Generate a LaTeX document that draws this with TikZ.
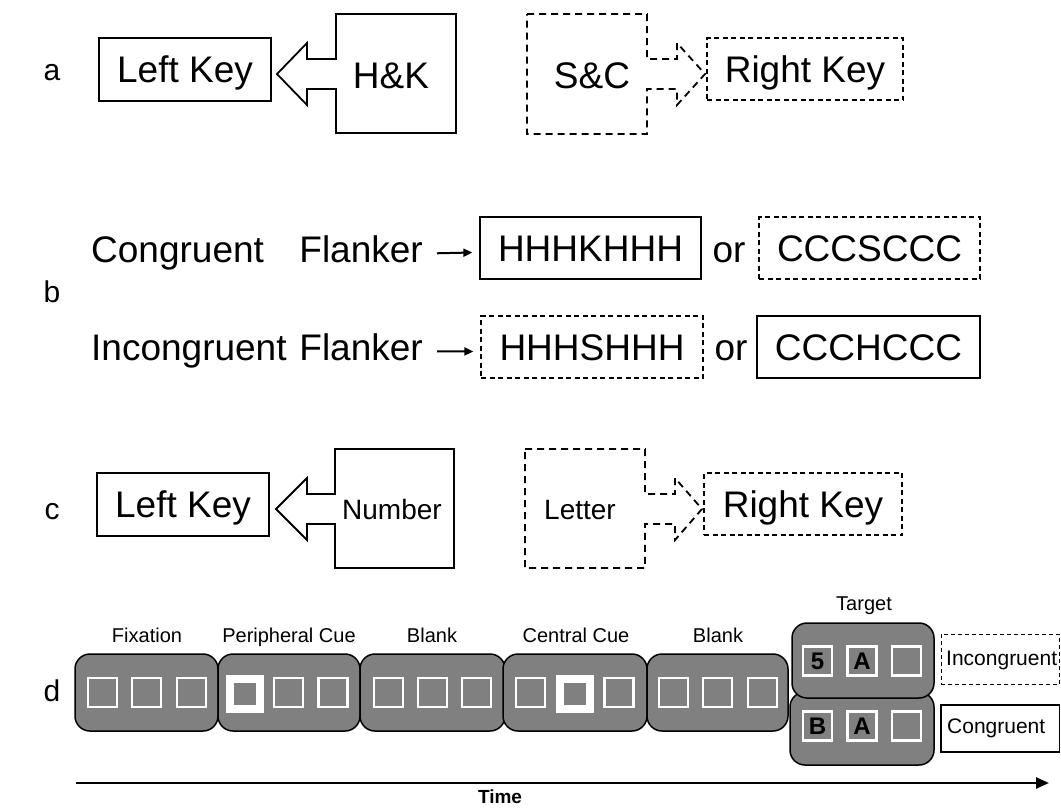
\documentclass[tikz,border=0pt]{standalone}
\usepackage{fontspec}
\setmainfont{Liberation Sans}
\usetikzlibrary{arrows.meta}
\definecolor{panelgray}{HTML}{808080}
\begin{document}
\begin{tikzpicture}[x=1pt,y=-1pt,
  fs/.style={font=\fontsize{#1}{#1}\selectfont},
  capc/.style={text height=#1, text depth=0pt, inner sep=0pt},
  keybox/.style={draw, line width=1.3pt, capc=26.5pt},
  dashbox/.style={keybox, dash pattern=on 5pt off 3.5pt},
  outl/.style={line width=1.8pt, line join=miter},
  dashoutl/.style={outl, dash pattern=on 7pt off 5pt},
  panel/.style={draw=black, line width=1.5pt, fill=panelgray, rounded corners=15pt, inner sep=0pt},
  sq/.style={draw=white, line width=2.5pt, fill=panelgray, minimum size=29pt, inner sep=0pt},
  hsq/.style={draw=white, line width=8pt, fill=panelgray, minimum size=30pt, inner sep=0pt},
  lab/.style={fs=30, anchor=base, inner sep=0pt},
  dlab/.style={fs=20, anchor=base, inner sep=0pt},
  tlet/.style={font=\fontsize{24}{24}\selectfont\bfseries, text=black, text height=17pt, text depth=0pt},
  barrow/.style={line width=2pt, -{Triangle[length=9pt,width=8pt]}},
]
\useasboundingbox (0,0) rectangle (1061,807);

% row labels
\node[lab] (la) at (52,80) {a};
\node[lab] (lb) at (52,302) {b};
\node[lab] (lc) at (52,519) {c};
\node[lab] (ld) at (52,701) {d};

% ---------- row a ----------
\node[keybox, fs=37, minimum width=172pt, minimum height=63pt] (lka) at (185,69.5) {Left Key};
\draw[outl] (336,14) -- (456,14) -- (456,133) -- (336,133) -- (336,89) -- (307,89) -- (307,105)
  -- (277,74) -- (307,43) -- (307,59) -- (336,59) -- cycle;
\node[capc=26.5pt, fs=37] (hk) at (391,75) {H\&K};
\draw[dashoutl] (527,14) -- (647,14) -- (647,59) -- (677,59) -- (677,43) -- (705,74) -- (677,105)
  -- (677,89) -- (647,89) -- (647,134) -- (527,134) -- cycle;
\node[capc=26.5pt, fs=37] (sc) at (592,75) {S\&C};
\node[dashbox, fs=37, minimum width=196pt, minimum height=62pt] (rka) at (805,69) {Right Key};

% ---------- row b ----------
\node[fs=37, anchor=base west, inner sep=0pt] (cg) at (91,262) {Congruent};
\node[fs=37, anchor=base east, inner sep=0pt] (fl1) at (423,262) {Flanker};
\node[keybox, fs=37, minimum width=221pt, minimum height=62pt] (b1) at (590.5,248) {HHHKHHH};
\node[fs=37, anchor=base, inner sep=0pt] (or1) at (729,262) {or};
\node[dashbox, fs=37, minimum width=221pt, minimum height=62pt] (b2) at (869.5,248) {CCCSCCC};
\draw[barrow] ([xshift=14pt,yshift=-4.5pt]fl1.east) -- ([xshift=-7pt,yshift=-4.5pt]b1.west);

\node[fs=37, anchor=base west, inner sep=0pt] (icg) at (91,360) {Incongruent};
\node[fs=37, anchor=base east, inner sep=0pt] (fl2) at (423,360) {Flanker};
\node[dashbox, fs=37, minimum width=222pt, minimum height=62pt] (b3) at (592,347) {HHHSHHH};
\node[fs=37, anchor=base, inner sep=0pt] (or2) at (731,360) {or};
\node[keybox, fs=37, minimum width=223pt, minimum height=62pt] (b4) at (868.5,347) {CCCHCCC};
\draw[barrow] ([xshift=14pt,yshift=-4.5pt]fl2.east) -- ([xshift=-7pt,yshift=-4.5pt]b3.west);

% ---------- row c ----------
\node[keybox, fs=37, minimum width=172pt, minimum height=63pt] (lkc) at (183,504.5) {Left Key};
\draw[outl] (335,449) -- (454,449) -- (454,568) -- (335,568) -- (335,524) -- (307,524) -- (307,540)
  -- (276,509) -- (307,478) -- (307,494) -- (335,494) -- cycle;
\node[capc=20pt, fs=28] (num) at (392,509.5) {Number};
\draw[dashoutl] (525,449) -- (645,449) -- (645,494) -- (675,494) -- (675,478) -- (702,509) -- (675,540)
  -- (675,524) -- (645,524) -- (645,568) -- (525,568) -- cycle;
\node[capc=20pt, fs=28] (let) at (580,509.5) {Letter};
\node[dashbox, fs=37, minimum width=198pt, minimum height=62pt] (rkc) at (803,504) {Right Key};

% ---------- row d ----------
\node[panel, minimum width=143pt, minimum height=77pt] (p1) at (146.5,692.5) {};
\node[panel, minimum width=142pt, minimum height=77pt] (p2) at (289,692.5) {};
\node[panel, minimum width=145pt, minimum height=77pt] (p3) at (432.5,692.5) {};
\node[panel, minimum width=144pt, minimum height=77pt] (p4) at (575,692.5) {};
\node[panel, minimum width=141pt, minimum height=77pt] (p5) at (717.5,692.5) {};
\node[panel, minimum width=144pt, minimum height=73pt] (t2) at (862,728.5) {};
\node[panel, minimum width=142pt, minimum height=75pt] (t1) at (863,660.5) {};

\node[sq] (p1a) at (102.5,692.5) {};
\node[sq] (p1b) at (146.5,692.5) {};
\node[sq] (p1c) at (191.5,692.5) {};
\node[hsq] (p2a) at (245,693.5) {};
\node[sq] (p2b) at (288.5,692.5) {};
\node[sq] (p2c) at (333,692.5) {};
\node[sq] (p3a) at (388.5,692.5) {};
\node[sq] (p3b) at (432.5,692.5) {};
\node[sq] (p3c) at (476.5,692.5) {};
\node[sq] (p4a) at (530.5,692.5) {};
\node[hsq] (p4b) at (575,693.5) {};
\node[sq] (p4c) at (619,692.5) {};
\node[sq] (p5a) at (673.5,692.5) {};
\node[sq] (p5b) at (717.5,692.5) {};
\node[sq] (p5c) at (762.5,692.5) {};
\node[sq, tlet] (t1a) at (817.5,661) {5};
\node[sq, tlet] (t1b) at (862,661) {A};
\node[sq] (t1c) at (906.5,661) {};
\node[sq, tlet] (t2a) at (817.5,726) {B};
\node[sq, tlet] (t2b) at (862,726) {A};
\node[sq] (t2c) at (906.5,726) {};

\node[dlab] (lfix) at (147,642) {Fixation};
\node[dlab] (lper) at (289,642) {Peripheral Cue};
\node[dlab] (lbl1) at (432,642) {Blank};
\node[dlab] (lcen) at (576,642) {Central Cue};
\node[dlab] (lbl2) at (718,642) {Blank};
\node[dlab] (ltar) at (864,610) {Target};

\node[draw, line width=1pt, dash pattern=on 4pt off 3pt, minimum width=118.5pt, minimum height=50pt, inner sep=0pt] (incb) at (1000.25,659) {};
\node[fs=21, anchor=base west, inner sep=0pt] (inct) at (946,665) {Incongruent};
\node[draw, line width=1.2pt, minimum width=118.5pt, minimum height=47pt, inner sep=0pt] (conb) at (1000.25,728.5) {};
\node[fs=21, anchor=base west, inner sep=0pt] (cont) at (947,733) {Congruent};

% time axis
\coordinate (t0) at (76,783);
\coordinate (tend) at (1049,783);
\draw[line width=2.5pt, -{Triangle[length=13pt,width=11pt]}] (t0) -- (tend);
\node[font=\fontsize{19}{19}\selectfont\bfseries, anchor=base, inner sep=0pt] (time) at (500,803) {Time};
\end{tikzpicture}
\end{document}
